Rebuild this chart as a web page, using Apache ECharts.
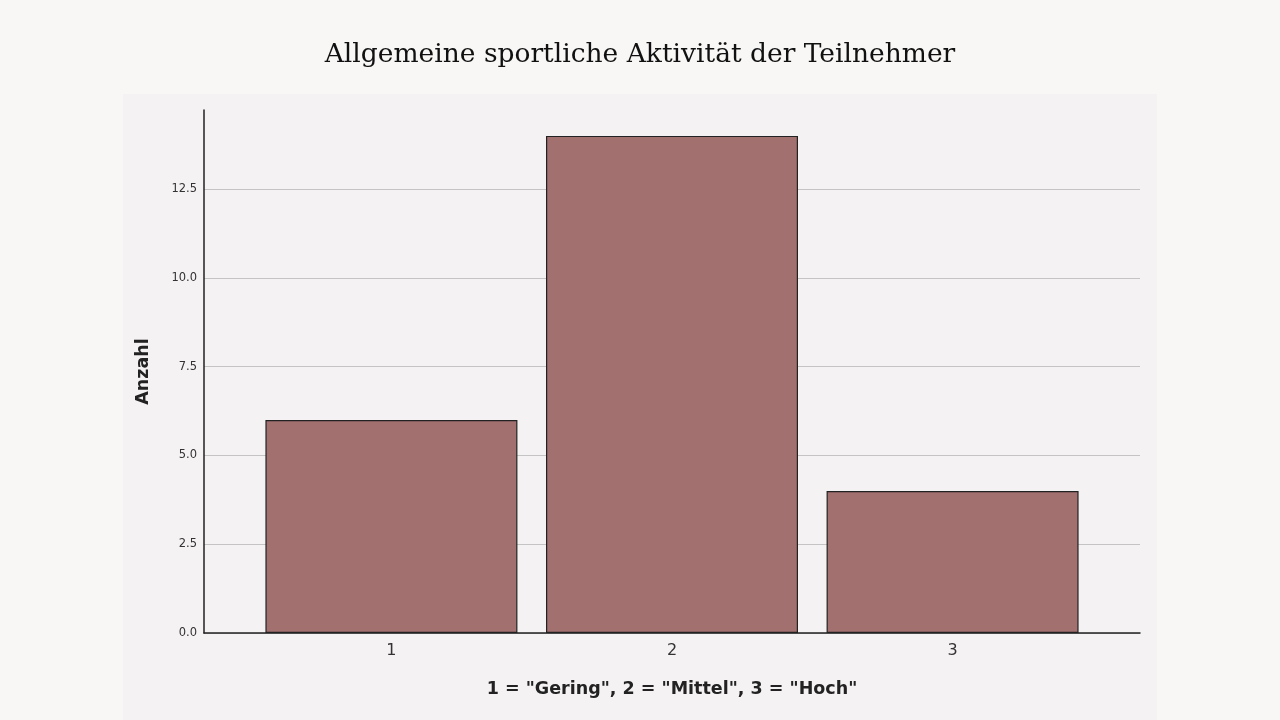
<!DOCTYPE html>
<html>
<head>
<meta charset="utf-8">
<script src="https://cdn.jsdelivr.net/npm/echarts@6/dist/echarts.min.js"></script>
<style>
  html, body { margin: 0; padding: 0; background: #f8f7f6; }
  #panel { position: absolute; left: 123px; top: 94px; width: 1034px; height: 626px; background: #f4f2f2; }
  #main { position: absolute; left: 0; top: 0; width: 1280px; height: 720px; }
</style>
</head>
<body>
<div id="panel"></div>
<div id="main"></div>
<script>
// Kategorien und Häufigkeiten
var categories = [1, 2, 3];
var counts = [6, 14, 4];
var yTicks = [0, 2.5, 5, 7.5, 10, 12.5];

var barData = [];
for (var i = 0; i < categories.length; i++) {
    barData.push([categories[i], counts[i]]);
}

var Chart = echarts.init(document.getElementById('main'));
Chart.setOption({
    backgroundColor: 'transparent',
    title: {
        text: 'Allgemeine sportliche Aktivität der Teilnehmer',
        left: 'center',
        top: 37,
        textStyle: {
            fontFamily: 'DejaVu Serif',
            fontSize: 26.5,
            fontWeight: 400,
            color: '#111'
        }
    },
    grid: {
        left: 204,
        right: 140,
        top: 110,
        bottom: 87
    },
    xAxis: {
        type: 'value',
        min: 0.332,
        max: 3.668,
        name: '1 = "Gering", 2 = "Mittel", 3 = "Hoch"',
        nameLocation: 'middle',
        nameGap: 47,
        nameTextStyle: {
            fontFamily: 'DejaVu Sans',
            fontSize: 17.5,
            fontWeight: 'bold',
            color: '#222',
            verticalAlign: 'top'
        },
        axisLine: { lineStyle: { color: '#222', width: 1.5 } },
        axisTick: { show: false, customValues: categories },
        splitLine: { show: false },
        axisLabel: {
            customValues: categories,
            fontFamily: 'DejaVu Sans',
            fontSize: 16,
            color: '#333',
            margin: 10
        }
    },
    yAxis: {
        type: 'value',
        min: 0,
        max: 14.73,
        name: 'Anzahl',
        nameLocation: 'middle',
        nameGap: 52,
        nameTextStyle: {
            fontFamily: 'DejaVu Sans',
            fontSize: 17.5,
            fontWeight: 'bold',
            color: '#222'
        },
        axisLine: { show: true, lineStyle: { color: '#222', width: 1.5 } },
        axisTick: { show: false, customValues: yTicks },
        splitLine: { show: true, lineStyle: { color: '#c4c4c4', width: 1.2 } },
        axisLabel: {
            customValues: yTicks,
            fontFamily: 'DejaVu Sans',
            fontSize: 11.5,
            color: '#333',
            margin: 7,
            formatter: function (v) { return v.toFixed(1); }
        }
    },
    series: [
        {
            type: 'bar',
            barWidth: 252,
            data: barData,
            itemStyle: {
                color: '#a37070',
                borderColor: '#222',
                borderWidth: 1.2
            }
        }
    ]
});
</script>
</body>
</html>
